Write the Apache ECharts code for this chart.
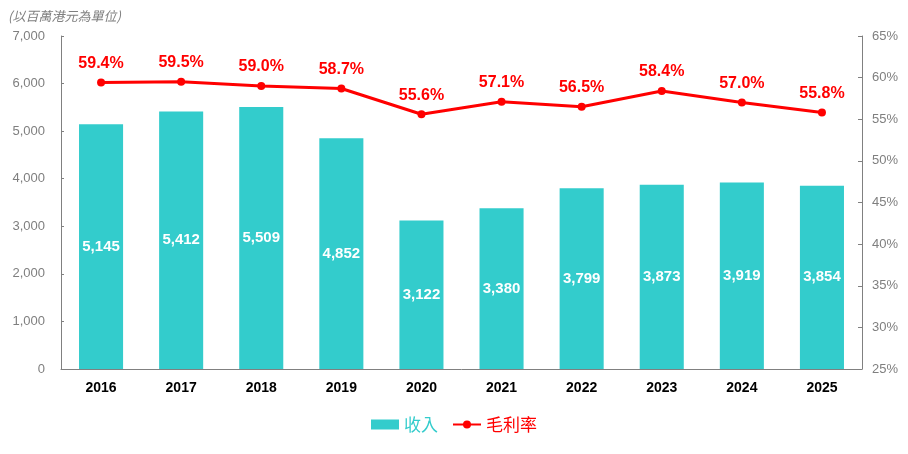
<!DOCTYPE html>
<html><head><meta charset="utf-8">
<script src="https://cdn.jsdelivr.net/npm/echarts@6/dist/echarts.min.js"></script>
<style>html,body{margin:0;padding:0;background:#fff}#c{width:908px;height:454px}</style>
</head><body><div id="c"></div>
<script>
const categories = ['2016','2017','2018','2019','2020','2021','2022','2023','2024','2025'];
const revenue = [5145,5412,5509,4852,3122,3380,3799,3873,3919,3854];
const grossMargin = [59.4,59.5,59.0,58.7,55.6,57.1,56.5,58.4,57.0,55.8];
const leftTicks = {min:0,max:7000,interval:1000};
const rightTicks = {min:25,max:65,interval:5};

const chart = echarts.init(document.getElementById('c'));
const axisGray = '#808080';
chart.setOption({
  animation:false,
  textStyle:{fontFamily:'Liberation Sans, Arial, sans-serif'},
  title:{text:'(以百萬港元為單位)',left:3,top:5,textStyle:{fontSize:13,fontStyle:'italic',fontWeight:'normal',color:'#7f7f7f',fontFamily:'Noto Sans CJK TC, sans-serif'}},
  grid:{left:61,right:46,top:36,bottom:85},
  legend:{bottom:16,left:'center',itemGap:14,itemWidth:28,itemHeight:10,
    textStyle:{fontSize:17,fontFamily:'Noto Sans CJK TC, sans-serif'},
    data:[{name:'收入',icon:'rect',textStyle:{color:'#33CCCC'}},{name:'毛利率',textStyle:{color:'#FF0000'}}]},
  xAxis:{type:'category',data:categories,
    axisLine:{lineStyle:{color:axisGray}},
    axisTick:{inside:true,length:5,lineStyle:{color:axisGray}},
    axisLabel:{color:'#000',fontWeight:'bold',fontSize:14,margin:12}},
  yAxis:[
    {type:'value',min:leftTicks.min,max:leftTicks.max,interval:leftTicks.interval,
     axisLine:{show:true,lineStyle:{color:axisGray}},
     axisTick:{show:true,inside:true,length:3,lineStyle:{color:axisGray}},
     splitLine:{show:false},
     axisLabel:{color:'#7f7f7f',fontSize:13,margin:16,formatter:v=>v.toLocaleString('en-US')}},
    {type:'value',min:rightTicks.min,max:rightTicks.max,interval:rightTicks.interval,
     axisLine:{show:true,lineStyle:{color:axisGray}},
     axisTick:{show:true,inside:true,length:4,lineStyle:{color:axisGray}},
     splitLine:{show:false},
     axisLabel:{color:'#7f7f7f',fontSize:13,margin:10,formatter:v=>v+'%'}}
  ],
  series:[
    {name:'收入',type:'bar',data:revenue,barWidth:'55%',itemStyle:{color:'#33CCCC'},
     label:{show:true,position:'inside',color:'#fff',fontWeight:'bold',fontSize:15,formatter:p=>p.value.toLocaleString('en-US')}},
    {name:'毛利率',type:'line',yAxisIndex:1,data:grossMargin,symbol:'circle',symbolSize:8,
     lineStyle:{color:'#FF0000',width:3},itemStyle:{color:'#FF0000'},
     label:{show:true,position:'top',distance:7,color:'#FF0000',fontWeight:'bold',fontSize:16,formatter:p=>p.value.toFixed(1)+'%'}}
  ]
});
</script></body></html>
